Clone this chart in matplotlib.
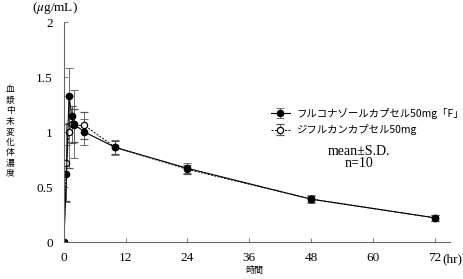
import matplotlib.pyplot as plt
import numpy as np

plt.rcParams['font.family'] = ['Liberation Serif', 'Noto Sans CJK JP']
plt.rcParams['mathtext.fontset'] = 'stix'

# time points (hr)
time_f = [0, 0.5, 1, 1.5, 2, 4, 10, 24, 48, 72]
conc_f = [0, 0.62, 1.33, 1.15, 1.07, 1.00, 0.86, 0.67, 0.39, 0.22]
sd_f = [0, 0.26, 0.25, 0.09, 0.31, 0.12, 0.065, 0.045, 0.035, 0.025]

time_s = [0, 0.5, 1, 1.5, 2, 4, 10, 24, 48, 72]
conc_s = [0, 0.72, 1.00, 1.07, 1.06, 1.06, 0.86, 0.66, 0.39, 0.22]
sd_s = [0, 0.35, 0.33, 0.17, 0.15, 0.12, 0.06, 0.04, 0.03, 0.025]

label_f = 'フルコナゾールカプセル50mg「F」'
label_s = 'ジフルカンカプセル50mg'
ylabel = '血漿中未変化体濃度'
xticks = [0, 12, 24, 36, 48, 60, 72]
yticks = [0, 0.5, 1, 1.5, 2]
ytick_labels = ['0', '0.5', '1', '1.5', '2']

fig = plt.figure(figsize=(4.63, 2.79), dpi=100)
ax = fig.add_axes([0.138, 0.1326, 0.834, 0.7885])

ax.errorbar(time_s, conc_s, yerr=sd_s, color='black', lw=0.7, ls=(0, (2, 1.5)),
            marker='o', ms=4.5, mfc='white', mec='black', mew=0.9,
            ecolor='#555555', elinewidth=0.6, capsize=3, capthick=0.6, label=label_s)
ax.errorbar(time_f, conc_f, yerr=sd_f, color='black', lw=0.8, ls='-',
            marker='o', ms=4.5, mfc='black', mec='black',
            ecolor='#555555', elinewidth=0.6, capsize=3, capthick=0.6, label=label_f)

ax.set_xlim(0, 75)
ax.set_ylim(0, 2)
ax.set_xticks(xticks)
ax.set_yticks(yticks)
ax.set_yticklabels(ytick_labels)
ax.spines['top'].set_visible(False)
ax.spines['right'].set_visible(False)
ax.spines['left'].set_color('#666666')
ax.spines['bottom'].set_color('#666666')
ax.spines['left'].set_linewidth(0.8)
ax.spines['bottom'].set_linewidth(0.8)
ax.tick_params(direction='in', length=3, width=0.6, color='#666666', labelsize=9.5)
ax.tick_params(axis='x', pad=7)
ax.tick_params(axis='y', pad=8)
for lb in ax.get_xticklabels() + ax.get_yticklabels():
    lb.set_clip_on(False)

ax.text(73.5, -0.107, '(hr)', fontsize=9.5, ha='left', va='top')
ax.text(-1.8, 2.13, r'($\mathit{\mu}$g/mL)', fontsize=9.5, ha='center', va='center')

fig.text(0.55, 0.029, '時間', fontsize=6.5, ha='center', va='center',
         family='Noto Sans CJK JP')

# vertical y label, one character per row
for i, ch in enumerate(ylabel):
    y = 90 + i * 10.4
    fig.text(0.022, 1 - y / 279, ch, fontsize=6.3, ha='center', va='center',
             family='Noto Sans CJK JP')

handles, labels = ax.get_legend_handles_labels()
leg = ax.legend(handles[::-1], labels[::-1], loc='upper left', bbox_to_anchor=(0.523, 0.635),
                frameon=False, prop={'family': 'Noto Sans CJK JP', 'size': 7.5},
                handlelength=1.8, handletextpad=0.6, labelspacing=0.55, borderpad=0)

ax.text(0.763, 0.385, 'mean±S.D.\nn=10', transform=ax.transAxes, fontsize=10,
        ha='center', va='center', linespacing=0.95)

fig.savefig('out.png', dpi=100)
